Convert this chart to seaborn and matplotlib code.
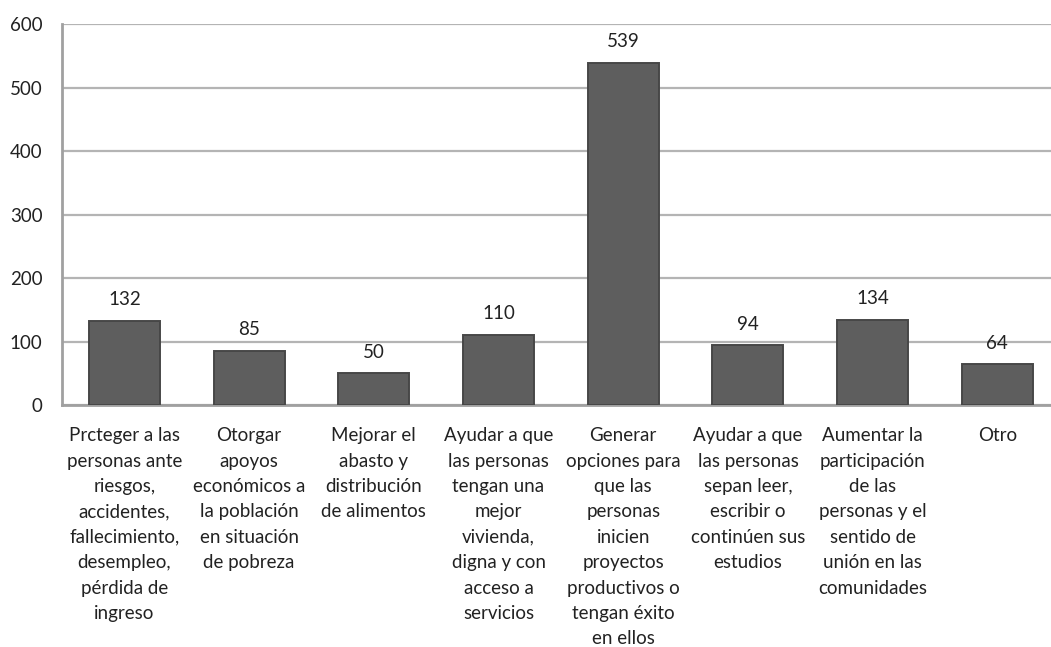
import matplotlib
matplotlib.use("Agg")
import matplotlib.pyplot as plt
import seaborn as sns
import pandas as pd

categories = [
    "Prcteger a las\npersonas ante\nriesgos,\naccidentes,\nfallecimiento,\ndesempleo,\npérdida de\ningreso",
    "Otorgar\napoyos\neconómicos a\nla población\nen situación\nde pobreza",
    "Mejorar el\nabasto y\ndistribución\nde alimentos",
    "Ayudar a que\nlas personas\ntengan una\nmejor\nvivienda,\ndigna y con\nacceso a\nservicios",
    "Generar\nopciones para\nque las\npersonas\ninicien\nproyectos\nproductivos o\ntengan éxito\nen ellos",
    "Ayudar a que\nlas personas\nsepan leer,\nescribir o\ncontinúen sus\nestudios",
    "Aumentar la\nparticipación\nde las\npersonas y el\nsentido de\nunión en las\ncomunidades",
    "Otro",
]
values = [132, 85, 50, 110, 539, 94, 134, 64]
yticks = [0, 100, 200, 300, 400, 500, 600]

sns.set_theme(style="white")
plt.rcParams['font.family'] = ['Lato', 'DejaVu Sans']

df = pd.DataFrame({"cat": categories, "val": values})

fig = plt.figure(figsize=(10.51, 6.47), dpi=100)
ax = fig.add_axes([62/1051, 1-405/647, (1051-62)/1051, (405-24)/647])

ax.yaxis.grid(True, color="#b4b4b4", linewidth=1.6, zorder=0)
ax.set_axisbelow(True)
sns.barplot(data=df, x="cat", y="val", color="#5e5e5e", width=0.57,
            edgecolor="#474747", linewidth=1.4, saturation=1, ax=ax, zorder=3)

for i, v in enumerate(values):
    ax.text(i, v + 20, str(v), ha="center", va="bottom", fontsize=13.5, color="#222222")

ax.set_ylim(0, 600)
ax.set_yticks(yticks)
ax.set_xlim(-0.5, 7.43)
ax.set_xlabel("")
ax.set_ylabel("")
ax.tick_params(axis="y", labelsize=13.5, colors="#222222", length=0, pad=14)
ax.tick_params(axis="x", labelsize=13.5, colors="#222222", length=0, pad=16)
for lab in ax.get_xticklabels():
    lab.set_linespacing(1.6)
for s in ["top", "right"]:
    ax.spines[s].set_visible(False)
for s in ["left", "bottom"]:
    ax.spines[s].set_color("#a0a0a0")
    ax.spines[s].set_linewidth(2)

fig.savefig("out.png", dpi=100)
